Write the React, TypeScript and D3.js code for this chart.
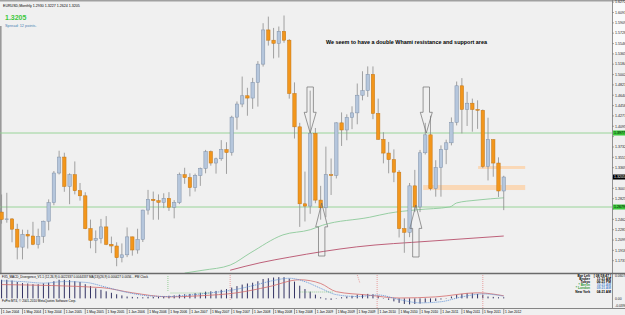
import React from 'react'
import * as d3 from 'd3'

// EURUSD monthly, Jan 2004 .. Jan 2012
const opens = [
  1.2590, 1.2460, 1.2470, 1.2290, 1.1975, 1.2200, 1.2170, 1.2025, 1.2165, 1.2430, 1.2755, 1.3275,
  1.3555, 1.3040, 1.3245, 1.2965, 1.2875, 1.2300, 1.2095, 1.2125, 1.2330, 1.2025, 1.1995, 1.1790,
  1.1840, 1.2155, 1.1925, 1.2110, 1.2625, 1.2815, 1.2790, 1.2760, 1.2830, 1.2675, 1.2755, 1.3245,
  1.3195, 1.3020, 1.3230, 1.3355, 1.3650, 1.3450, 1.3525, 1.3685, 1.3635, 1.4255, 1.4485, 1.4630,
  1.4590, 1.4865, 1.5185, 1.5785, 1.5605, 1.5550, 1.5760, 1.5605, 1.4670, 1.4085, 1.2735, 1.2695,
  1.3970, 1.2800, 1.2665, 1.3245, 1.3235, 1.4155, 1.4030, 1.4250, 1.4330, 1.4640, 1.4720, 1.5005,
  1.4320, 1.3865, 1.3625, 1.3510, 1.3290, 1.2300, 1.2235, 1.3050, 1.2680, 1.3630, 1.3945, 1.3000,
  1.3370, 1.3690, 1.3805, 1.4165, 1.4805, 1.4390, 1.4500, 1.4390, 1.4375, 1.3390, 1.3860, 1.3450,
  1.2960,
]
const highs = [
  1.2898, 1.2928, 1.2483, 1.2385, 1.2282, 1.2279, 1.2419, 1.2299, 1.2440, 1.2813, 1.3310, 1.3666,
  1.3631, 1.3270, 1.3478, 1.3100, 1.2938, 1.2458, 1.2268, 1.2470, 1.2519, 1.2160, 1.2060, 1.2040,
  1.2320, 1.2160, 1.2297, 1.2630, 1.2979, 1.2950, 1.2900, 1.2920, 1.2940, 1.2800, 1.3283, 1.3367,
  1.3270, 1.3265, 1.3370, 1.3681, 1.3670, 1.3545, 1.3852, 1.3815, 1.4280, 1.4530, 1.4967, 1.4770,
  1.4945, 1.5238, 1.5903, 1.6018, 1.5820, 1.5845, 1.6038, 1.5625, 1.4865, 1.4155, 1.3300, 1.4720,
  1.4065, 1.3050, 1.3738, 1.3530, 1.4165, 1.4338, 1.4305, 1.4445, 1.4845, 1.5060, 1.5145, 1.5145,
  1.4580, 1.3990, 1.3820, 1.3690, 1.3325, 1.2480, 1.3100, 1.3330, 1.3680, 1.4155, 1.4280, 1.3500,
  1.3760, 1.3860, 1.4250, 1.4880, 1.4940, 1.4700, 1.4580, 1.4550, 1.4390, 1.4245, 1.3870, 1.3550,
  1.3227,
]
const lows = [
  1.2387, 1.2404, 1.2060, 1.1760, 1.1760, 1.1950, 1.2010, 1.1951, 1.2050, 1.2270, 1.2710, 1.3250,
  1.2946, 1.2728, 1.2900, 1.2790, 1.2290, 1.1954, 1.1870, 1.2040, 1.2010, 1.1870, 1.1640, 1.1708,
  1.1800, 1.1826, 1.1860, 1.2065, 1.2545, 1.2455, 1.2457, 1.2660, 1.2610, 1.2480, 1.2730, 1.3085,
  1.2866, 1.2950, 1.3050, 1.3270, 1.3404, 1.3265, 1.3490, 1.3260, 1.3580, 1.4035, 1.4430, 1.4280,
  1.4400, 1.4440, 1.5142, 1.5510, 1.5285, 1.5300, 1.5560, 1.4580, 1.3880, 1.2330, 1.2425, 1.2560,
  1.2745, 1.2457, 1.2500, 1.2890, 1.3180, 1.3750, 1.3850, 1.4045, 1.4130, 1.4550, 1.4610, 1.4220,
  1.3860, 1.3445, 1.3270, 1.3115, 1.2145, 1.1876, 1.2150, 1.2590, 1.2590, 1.3600, 1.2970, 1.2860,
  1.2860, 1.3430, 1.3760, 1.4110, 1.3970, 1.4100, 1.4000, 1.4050, 1.3360, 1.3145, 1.3210, 1.2855,
  1.2624,
]
const closes = [
  1.2460, 1.2470, 1.2290, 1.1975, 1.2200, 1.2170, 1.2025, 1.2165, 1.2430, 1.2755, 1.3275, 1.3555,
  1.3040, 1.3245, 1.2965, 1.2875, 1.2300, 1.2095, 1.2125, 1.2330, 1.2025, 1.1995, 1.1790, 1.1840,
  1.2155, 1.1925, 1.2110, 1.2625, 1.2815, 1.2790, 1.2760, 1.2830, 1.2675, 1.2755, 1.3245, 1.3195,
  1.3020, 1.3230, 1.3355, 1.3650, 1.3450, 1.3525, 1.3685, 1.3635, 1.4255, 1.4485, 1.4630, 1.4590,
  1.4865, 1.5185, 1.5785, 1.5605, 1.5550, 1.5760, 1.5605, 1.4670, 1.4085, 1.2735, 1.2695, 1.3970,
  1.2800, 1.2665, 1.3245, 1.3235, 1.4155, 1.4030, 1.4250, 1.4330, 1.4640, 1.4720, 1.5005, 1.4320,
  1.3865, 1.3625, 1.3510, 1.3290, 1.2300, 1.2235, 1.3050, 1.2680, 1.3630, 1.3945, 1.3000, 1.3370,
  1.3690, 1.3805, 1.4165, 1.4805, 1.4390, 1.4500, 1.4390, 1.4375, 1.3390, 1.3860, 1.3450, 1.2960,
  1.3205,
]

// moving averages: [month index, price]
const maGreen = [
  [35, 1.152], [38.5, 1.157], [43.7, 1.166], [47.5, 1.187], [53.8, 1.219], [59, 1.228],
  [61.4, 1.236], [70.4, 1.250], [74, 1.257], [79.4, 1.263], [85.7, 1.268], [87, 1.275],
  [90.9, 1.280], [96, 1.284],
]
const maRed = [
  [43.7, 1.157], [49.4, 1.170], [55.1, 1.180], [67.9, 1.198], [81.9, 1.208], [96, 1.217],
]

// MACD histogram, one value per month
const macd = [
  0.050, 0.050, 0.048, 0.044, 0.041, 0.040, 0.038, 0.038, 0.040, 0.042, 0.046, 0.050,
  0.050, 0.049, 0.046, 0.044, 0.038, 0.033, 0.027, 0.023, 0.019, 0.015, 0.011, 0.008,
  0.005, 0.004, 0.003, 0.003, 0.004, 0.004, 0.004, 0.005, 0.007, 0.008, 0.010, 0.011,
  0.012, 0.014, 0.015, 0.018, 0.019, 0.020, 0.023, 0.025, 0.029, 0.033, 0.037, 0.040,
  0.042, 0.046, 0.052, 0.054, 0.056, 0.057, 0.057, 0.053, 0.045, 0.034, 0.025, 0.018,
  0.010, 0.003, -0.003, -0.004, -0.001, 0.003, 0.005, 0.007, 0.010, 0.011, 0.012, 0.011,
  0.007, 0.001, -0.004, -0.008, -0.012, -0.015, -0.016, -0.015, -0.014, -0.011, -0.010, -0.007,
  -0.003, 0.001, 0.005, 0.010, 0.012, 0.014, 0.014, 0.012, 0.010, 0.005, 0.004, 0.003,
  0.003,
]
const signal = [
  [0, 0.047], [4, 0.045], [8, 0.041], [12, 0.045], [16, 0.043], [20, 0.030], [24, 0.016],
  [28, 0.007], [32, 0.005], [36, 0.009], [40, 0.015], [44, 0.022], [48, 0.034], [52, 0.048],
  [55, 0.054], [58, 0.045], [61, 0.027], [64, 0.010], [68, 0.005], [72, 0.009], [76, -0.003],
  [80, -0.012], [84, -0.009], [88, 0.004], [92, 0.012], [96, 0.006],
]
const slowLine = [
  [0, 0.037], [19, 0.029], [25, 0.015], [32, 0.004], [38, 0.007], [45, 0.015], [51, 0.031],
  [57, 0.050], [61, 0.040], [64, 0.018], [70, 0.009], [76, 0.001], [83, 0.004], [91, 0.015],
  [96, 0.007],
]

const xLabels = [
  '1 Jan 2004', '1 May 2004', '1 Sep 2004', '1 Jan 2005', '1 May 2005', '1 Sep 2005',
  '1 Jan 2006', '1 May 2006', '1 Sep 2006', '1 Jan 2007', '1 May 2007', '1 Sep 2007',
  '1 Jan 2008', '1 May 2008', '1 Sep 2008', '1 Jan 2009', '1 May 2009', '1 Sep 2009',
  '1 Jan 2010', '1 May 2010', '1 Sep 2010', '1 Jan 2011', '1 May 2011', '1 Sep 2011',
  '1 Jan 2012',
]
const priceTicks = [
  1.6272, 1.6091, 1.5909, 1.5728, 1.5546, 1.5365, 1.5184, 1.5002, 1.4821, 1.4640, 1.4458,
  1.4277, 1.4095, 1.3914, 1.3732, 1.3551, 1.3369, 1.3188, 1.3007, 1.2825, 1.2644, 1.2462,
  1.2281, 1.2099, 1.1918, 1.1737,
]
const bid = 1.3205
const levels = [1.3977, 1.2679]
const zones = [
  { from: 91.1, to: 100.1, top: 1.3398, bottom: 1.3346 },
  { from: 80.6, to: 100.1, top: 1.3065, bottom: 1.2977 },
]
const arrows = [
  { i: 59, tail: 1.4784, tip: 1.3977 },
  { i: 61.2, tail: 1.1819, tip: 1.2749 },
  { i: 81.2, tail: 1.4784, tip: 1.3977 },
  { i: 79.2, tail: 1.1802, tip: 1.2714 },
]
const clocks = [
  ['Bar Left', '[ 08:58:47 ]', '#000', '#000'],
  ['Broker', '11:21 AM', '#000', '#000'],
  ['Tokyo', '06:21 PM', '#000', '#000'],
  ['* Berlin', '10:21 AM', '#2e9a2e', '#5b8fd0'],
  ['* London', '09:21 AM', '#2e9a2e', '#5b8fd0'],
  ['New York', '04:21 AM', '#000', '#000'],
]

const W = 625
const H = 315
const RIGHT = 612

export default function App() {
  const x = d3.scaleLinear().domain([-0.3, 116.7]).range([0, RIGHT])
  const y = d3.scaleLinear().domain([1.1609, 1.631]).range([268, 0])
  const yi = d3.scaleLinear().domain([-0.0258, 0.0654]).range([308, 274])

  const maLine = d3.line<number[]>().x(d => x(d[0])).y(d => y(d[1])).curve(d3.curveMonotoneX)
  const indLine = d3.line<number[]>().x(d => x(d[0])).y(d => yi(d[1])).curve(d3.curveMonotoneX)
  const font = 'Liberation Sans, Arial, sans-serif'

  // axis labels hidden behind the coloured price markers
  const markers = [...levels, bid]
  const shownTicks = priceTicks.filter(t => markers.every(m => Math.abs(y(t) - y(m)) > 5.5))

  const arrowPath = (a: { i: number; tail: number; tip: number }) => {
    const cx = x(a.i)
    const t0 = y(a.tail)
    const t1 = y(a.tip)
    const dir = t1 > t0 ? 1 : -1
    const headLen = Math.abs(t1 - t0) * 0.45
    const hb = t1 - dir * headLen
    const sw = 3.2
    const hw = 6
    return `M${cx - sw},${t0} L${cx + sw},${t0} L${cx + sw},${hb} L${cx + hw},${hb} L${cx},${t1} L${cx - hw},${hb} L${cx - sw},${hb} Z`
  }

  return (
    <svg width={W} height={H} style={{ position: 'fixed', left: 0, top: 0, fontFamily: font }}>
      <defs>
        <clipPath id="main"><rect x={0} y={0} width={RIGHT} height={273} /></clipPath>
        <clipPath id="ind"><rect x={0} y={274} width={RIGHT} height={34} /></clipPath>
      </defs>
      <rect x={0} y={0} width={W} height={H} fill="#f0f0f0" />
      <rect x={0} y={0} width={W} height={1.5} fill="#a0a0a0" />
      <rect x={RIGHT + 1} y={1.5} width={W - RIGHT} height={52} fill="#fafafa" />
      <rect x={0} y={26} width={1.6} height={247} fill="#9a9a9a" />

      <g clipPath="url(#main)">
        {levels.map(l => (
          <line key={l} x1={0} x2={RIGHT} y1={y(l)} y2={y(l)} stroke="#8fd08f" strokeWidth={0.9} />
        ))}
        {zones.map((z, k) => (
          <rect key={k} x={x(z.from)} y={y(z.top)} width={x(z.to) - x(z.from)}
            height={y(z.bottom) - y(z.top)} fill="#fcd3ac" opacity={0.85} />
        ))}
        <path d={maLine(maGreen as any) || ''} fill="none" stroke="#8cc99a" strokeWidth={0.9} />
        <path d={maLine(maRed as any) || ''} fill="none" stroke="#b8506c" strokeWidth={0.9} />
        {opens.map((o, i) => {
          const c = closes[i]
          const bull = c >= o
          const cx = x(i)
          const top = y(Math.max(o, c))
          const bot = y(Math.min(o, c))
          return (
            <g key={i}>
              <line x1={cx} x2={cx} y1={y(highs[i])} y2={y(lows[i])} stroke="#8c8c8c" strokeWidth={0.8} />
              <rect x={cx - 1.7} y={top} width={3.4} height={Math.max(bot - top, 0.8)}
                fill={bull ? '#b5c6dc' : '#f2961c'} stroke={bull ? '#7f90a8' : '#c47512'} strokeWidth={0.5} />
            </g>
          )
        })}
        {arrows.map((a, k) => (
          <path key={k} d={arrowPath(a)} fill="none" stroke="#6e6e6e" strokeWidth={0.7} />
        ))}
      </g>

      <text x={3} y={6.5} fontSize={3.6} fill="#000">EURUSD,Monthly  1.2930 1.3227 1.2624 1.3205</text>
      <text x={5} y={19.5} fontSize={7} fontWeight="bold" fill="#3cc83c">1.3205</text>
      <text x={5} y={27} fontSize={3.9} fill="#4b82b4">Spread: 12 points.</text>
      <text x={326} y={44} fontSize={5.2} fontWeight="bold" fill="#000" textLength={161} lengthAdjust="spacingAndGlyphs">
        We seem to have a double Whami resistance and support area
      </text>

      {/* price axis */}
      <line x1={RIGHT + 0.5} x2={RIGHT + 0.5} y1={0} y2={308} stroke="#7a7a7a" strokeWidth={0.8} />
      {priceTicks.map(t => (
        <line key={t} x1={RIGHT + 0.5} x2={RIGHT + 2} y1={y(t)} y2={y(t)} stroke="#555" strokeWidth={0.5} />
      ))}
      {shownTicks.map(t => (
        <text key={t} x={RIGHT + 3} y={y(t) + 1.3} fontSize={3.6} fill="#222">{t.toFixed(4)}</text>
      ))}
      {levels.map(l => (
        <g key={l}>
          <rect x={RIGHT + 1} y={y(l) - 2.5} width={12} height={5} fill="#3cc83c" />
          <text x={RIGHT + 2} y={y(l) + 1.3} fontSize={3.6} fill="#000">{l.toFixed(4)}</text>
        </g>
      ))}
      <rect x={RIGHT + 1} y={y(bid) - 2.5} width={12} height={5} fill="#000" />
      <text x={RIGHT + 2} y={y(bid) + 1.3} fontSize={3.6} fill="#fff">{bid.toFixed(4)}</text>

      {/* indicator window */}
      <line x1={0} x2={W} y1={273.5} y2={273.5} stroke="#6a6a6a" strokeWidth={1.4} />
      <g clipPath="url(#ind)">
        {macd.map((v, i) => (
          <line key={i} x1={x(i)} x2={x(i)} y1={yi(0)} y2={yi(v)} stroke="#1c1c52" strokeWidth={0.9} />
        ))}
        <path d={indLine(slowLine as any) || ''} fill="none" stroke="#d46a6a" strokeWidth={0.8} />
        <path d={indLine(signal as any) || ''} fill="none" stroke="#5b8fd6" strokeWidth={0.8} strokeDasharray="1.2 0.8" />
        <line x1={x(31.8)} x2={x(31.8)} y1={276} y2={292} stroke="#5cb85c" strokeWidth={0.6} strokeDasharray="1 1" />
        <line x1={x(32.3)} x2={x(40)} y1={293} y2={293} stroke="#5cb85c" strokeWidth={0.6} strokeDasharray="1 1" />
        <line x1={x(57)} x2={x(63.5)} y1={292} y2={292} stroke="#5cb85c" strokeWidth={0.6} strokeDasharray="1 1" />
        <line x1={x(43.7)} x2={x(43.7)} y1={275} y2={300} stroke="#e06a6a" strokeWidth={0.6} strokeDasharray="1 1" />
        <line x1={x(68)} x2={x(68.5)} y1={275} y2={283} stroke="#e06a6a" strokeWidth={0.6} strokeDasharray="1 1" />
        <line x1={x(71.8)} x2={x(71.8)} y1={275} y2={308} stroke="#e06a6a" strokeWidth={0.6} strokeDasharray="1 1" />
        <line x1={x(92)} x2={x(92)} y1={275} y2={308} stroke="#e06a6a" strokeWidth={0.6} strokeDasharray="1 1" />
      </g>
      <text x={2} y={277.5} fontSize={3.1} fill="#000">FX5_MACD_Divergence_V1.1 (12,26,9) 0.0022337 0.0044337 MA(13)(26,9) 0.000427 0.0056...   PM Clock</text>
      <text x={2} y={302} fontSize={3.1} fill="#000">FxPro MT4, © 2001-2010 MetaQuotes Software Corp.</text>
      {clocks.map((c, k) => (
        <g key={k} fontSize={3.3} fontWeight="bold">
          <text x={590} y={277 + k * 3.1} textAnchor="end" fill={c[2]}>{c[0]}</text>
          <text x={611} y={277 + k * 3.1} textAnchor="end" fill={c[3]}>{c[1]}</text>
        </g>
      ))}
      <text x={RIGHT + 3} y={277} fontSize={3.4} fill="#222">0.0607</text>
      <text x={RIGHT + 3} y={yi(0) + 1.2} fontSize={3.4} fill="#222">0.00</text>
      <text x={RIGHT + 3} y={307} fontSize={3.4} fill="#222">-0.0398</text>

      {/* time axis */}
      <line x1={0} x2={W} y1={308.5} y2={308.5} stroke="#6a6a6a" strokeWidth={0.8} />
      {xLabels.map((l, k) => (
        <g key={l}>
          <line x1={x(k * 4)} x2={x(k * 4)} y1={309} y2={314} stroke="#444" strokeWidth={0.5} />
          <text x={x(k * 4) + 1.3} y={313} fontSize={3.3} fill="#000">{l}</text>
        </g>
      ))}
    </svg>
  )
}
